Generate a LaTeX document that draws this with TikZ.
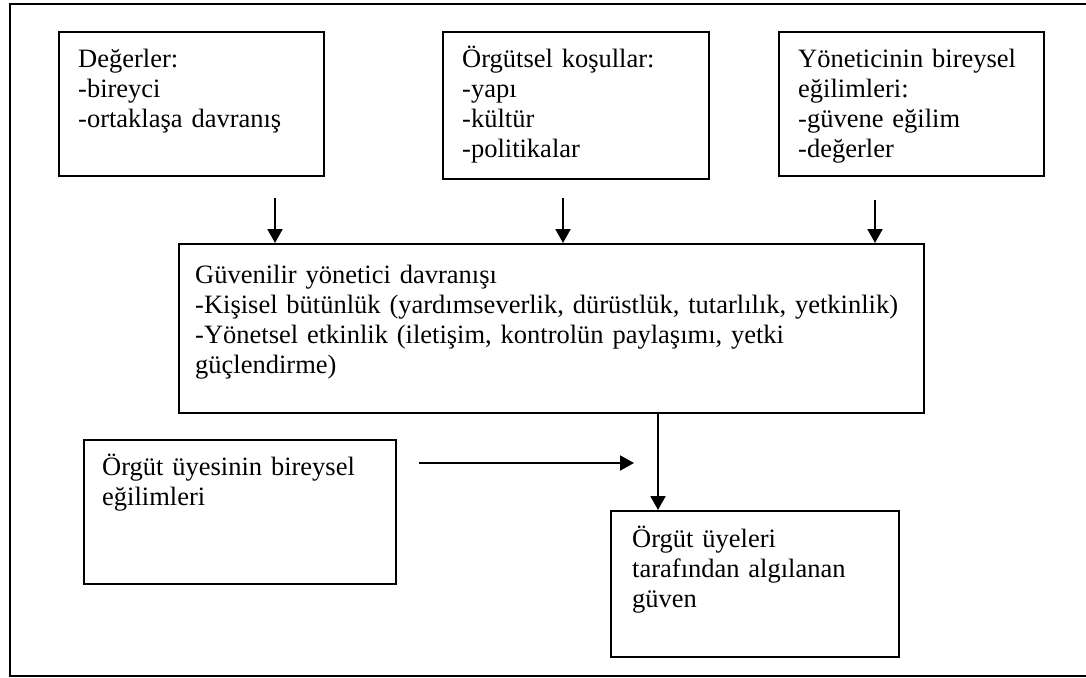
\documentclass[tikz,border=0pt]{standalone}
\usepackage{fontspec}
\setmainfont{Liberation Serif}
\usetikzlibrary{arrows.meta}
\begin{document}
\begin{tikzpicture}[x=1pt,y=-1pt,
  box/.style={draw,line width=2.2pt,inner sep=0pt,anchor=north west},
  label/.style={anchor=base west,inner sep=0pt,align=left,text width=#1,
    font=\fontsize{26.5}{30}\selectfont},
  label/.default=240pt,
  link/.style={line width=2pt,-{Triangle[length=14pt,width=15pt]}}]
\useasboundingbox (0,0) rectangle (1086,677);
% outer frame, open to the right
\draw[line width=2.2pt] (1100,4) -- (10,4) -- (10,676) -- (1100,676);

% boxes
\node[box,minimum width=265pt,minimum height=144pt] (val) at (58,31) {};
\node[box,minimum width=266pt,minimum height=147pt] (org) at (442,31) {};
\node[box,minimum width=265pt,minimum height=144pt] (mgr) at (778,31) {};
\node[box,minimum width=745pt,minimum height=169pt] (beh) at (178,243) {};
\node[box,minimum width=312pt,minimum height=144pt] (mem) at (83,439) {};
\node[box,minimum width=288pt,minimum height=146pt] (trust) at (610,510) {};

% box texts
\node[label] (tval) at ([shift={(20,36)}]val.north west)
  {Değerler:\\-bireyci\\-ortaklaşa davranış};
\node[label] (torg) at ([shift={(20,36)}]org.north west)
  {Örgütsel koşullar:\\-yapı\\-kültür\\-politikalar};
\node[label] (tmgr) at ([shift={(20,36)}]mgr.north west)
  {Yöneticinin bireysel\\eğilimleri:\\-güvene eğilim\\-değerler};
\node[label=720pt] (tbeh) at ([shift={(17,40)}]beh.north west)
  {Güvenilir yönetici davranışı\\-Kişisel bütünlük (yardımseverlik, dürüstlük, tutarlılık, yetkinlik)\\-Yönetsel etkinlik (iletişim, kontrolün paylaşımı, yetki\\güçlendirme)};
\node[label=290pt] (tmem) at ([shift={(19,36)}]mem.north west)
  {Örgüt üyesinin bireysel\\eğilimleri};
\node[label] (ttrust) at ([shift={(22,37)}]trust.north west)
  {Örgüt üyeleri\\tarafından algılanan\\güven};

% arrow start points
\coordinate (a1) at (275,198);
\coordinate (a2) at (563,198);
\coordinate (a3) at (875,200);
\coordinate (h1) at (419,463);
\coordinate (h2) at (634,463);

\draw[link] (a1) -- (a1 |- beh.north);
\draw[link] (a2) -- (a2 |- beh.north);
\draw[link] (a3) -- (a3 |- beh.north);
\draw[link] (beh.south -| 658,0) -- (trust.north -| 658,0);
\draw[link] (h1) -- (h2);
\end{tikzpicture}
\end{document}
